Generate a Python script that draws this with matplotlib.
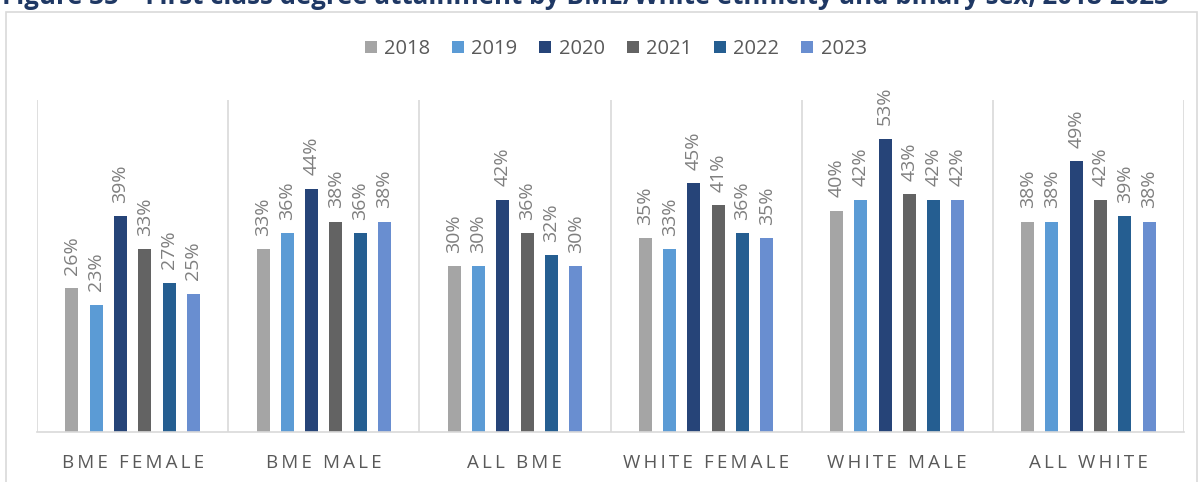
import numpy as np
import matplotlib
matplotlib.use("Agg")
import matplotlib.pyplot as plt
from matplotlib.patches import Rectangle, Patch

plt.rcParams['font.family'] = ['Open Sans', 'DejaVu Sans']

# data
groups = ["BME FEMALE", "BME MALE", "ALL BME", "WHITE FEMALE", "WHITE MALE", "ALL WHITE"]
years = ["2018", "2019", "2020", "2021", "2022", "2023"]
colors = ["#A5A5A5", "#5B9BD5", "#264478", "#636363", "#255E91", "#698ED0"]
v2018 = [26, 33, 30, 35, 40, 38]
v2019 = [23, 36, 30, 33, 42, 38]
v2020 = [39, 44, 42, 45, 53, 49]
v2021 = [33, 38, 36, 41, 43, 42]
v2022 = [27, 36, 32, 36, 42, 39]
v2023 = [25, 38, 30, 35, 42, 38]
series = [v2018, v2019, v2020, v2021, v2022, v2023]


def spaced(s):
    # letter spacing like the original axis labels
    return "\u2009".join(list(s))


fig = plt.figure(figsize=(12, 4.82), dpi=100)

# chart border
fig.patches.append(Rectangle((6 / 1200, -0.05), 1191 / 1200, 1 - 12 / 482 + 0.05,
                             transform=fig.transFigure, fill=False,
                             edgecolor="#D9D9D9", linewidth=1.2))

# title (cut off at top like the reference)
fig.text(2 / 1200, 1 - 4 / 482,
         "Figure 35 \u2013 First class degree attainment by BME/White ethnicity and binary sex, 2018-2023",
         ha="left", va="baseline", fontsize=18.6, fontweight="bold", color="#1F3864")

ax = fig.add_axes([37 / 1200, 50 / 482, 1147 / 1200, 332 / 482])

x = np.arange(len(groups)) + 0.5
step = 0.127
width = 0.068
for k, (yr, vals, c) in enumerate(zip(years, series, colors)):
    pos = x + (k - 2.5) * step
    ax.bar(pos, vals, width=width, color=c, label=yr)
    for p, v in zip(pos, vals):
        ax.text(p, v + 2.4, f"{v}%", rotation=90, ha="center", va="bottom",
                fontsize=14, color="#7F7F7F")

ax.set_xlim(0, len(groups))
ax.set_ylim(0, 60)
ax.set_yticks([])
for sp in ["top", "right", "left"]:
    ax.spines[sp].set_visible(False)
ax.spines["bottom"].set_color("#D9D9D9")
ax.spines["bottom"].set_linewidth(1.2)
for b in range(len(groups) + 1):
    ax.axvline(b, color="#D9D9D9", linewidth=1.2, zorder=0)

ax.set_xticks(x)
ax.set_xticklabels([spaced(g) for g in groups], fontsize=13.5, color="#595959")
ax.tick_params(axis="x", length=0, pad=16)

handles = [Patch(facecolor=c, label=y) for y, c in zip(years, colors)]
fig.legend(handles=handles, loc="center", bbox_to_anchor=(0.513, 1 - 49 / 482), ncol=6,
           frameon=False, fontsize=14.5, handlelength=0.6, handleheight=0.6,
           handletextpad=0.35, columnspacing=1.1, labelcolor="#595959")

fig.savefig("out.png", dpi=100)
